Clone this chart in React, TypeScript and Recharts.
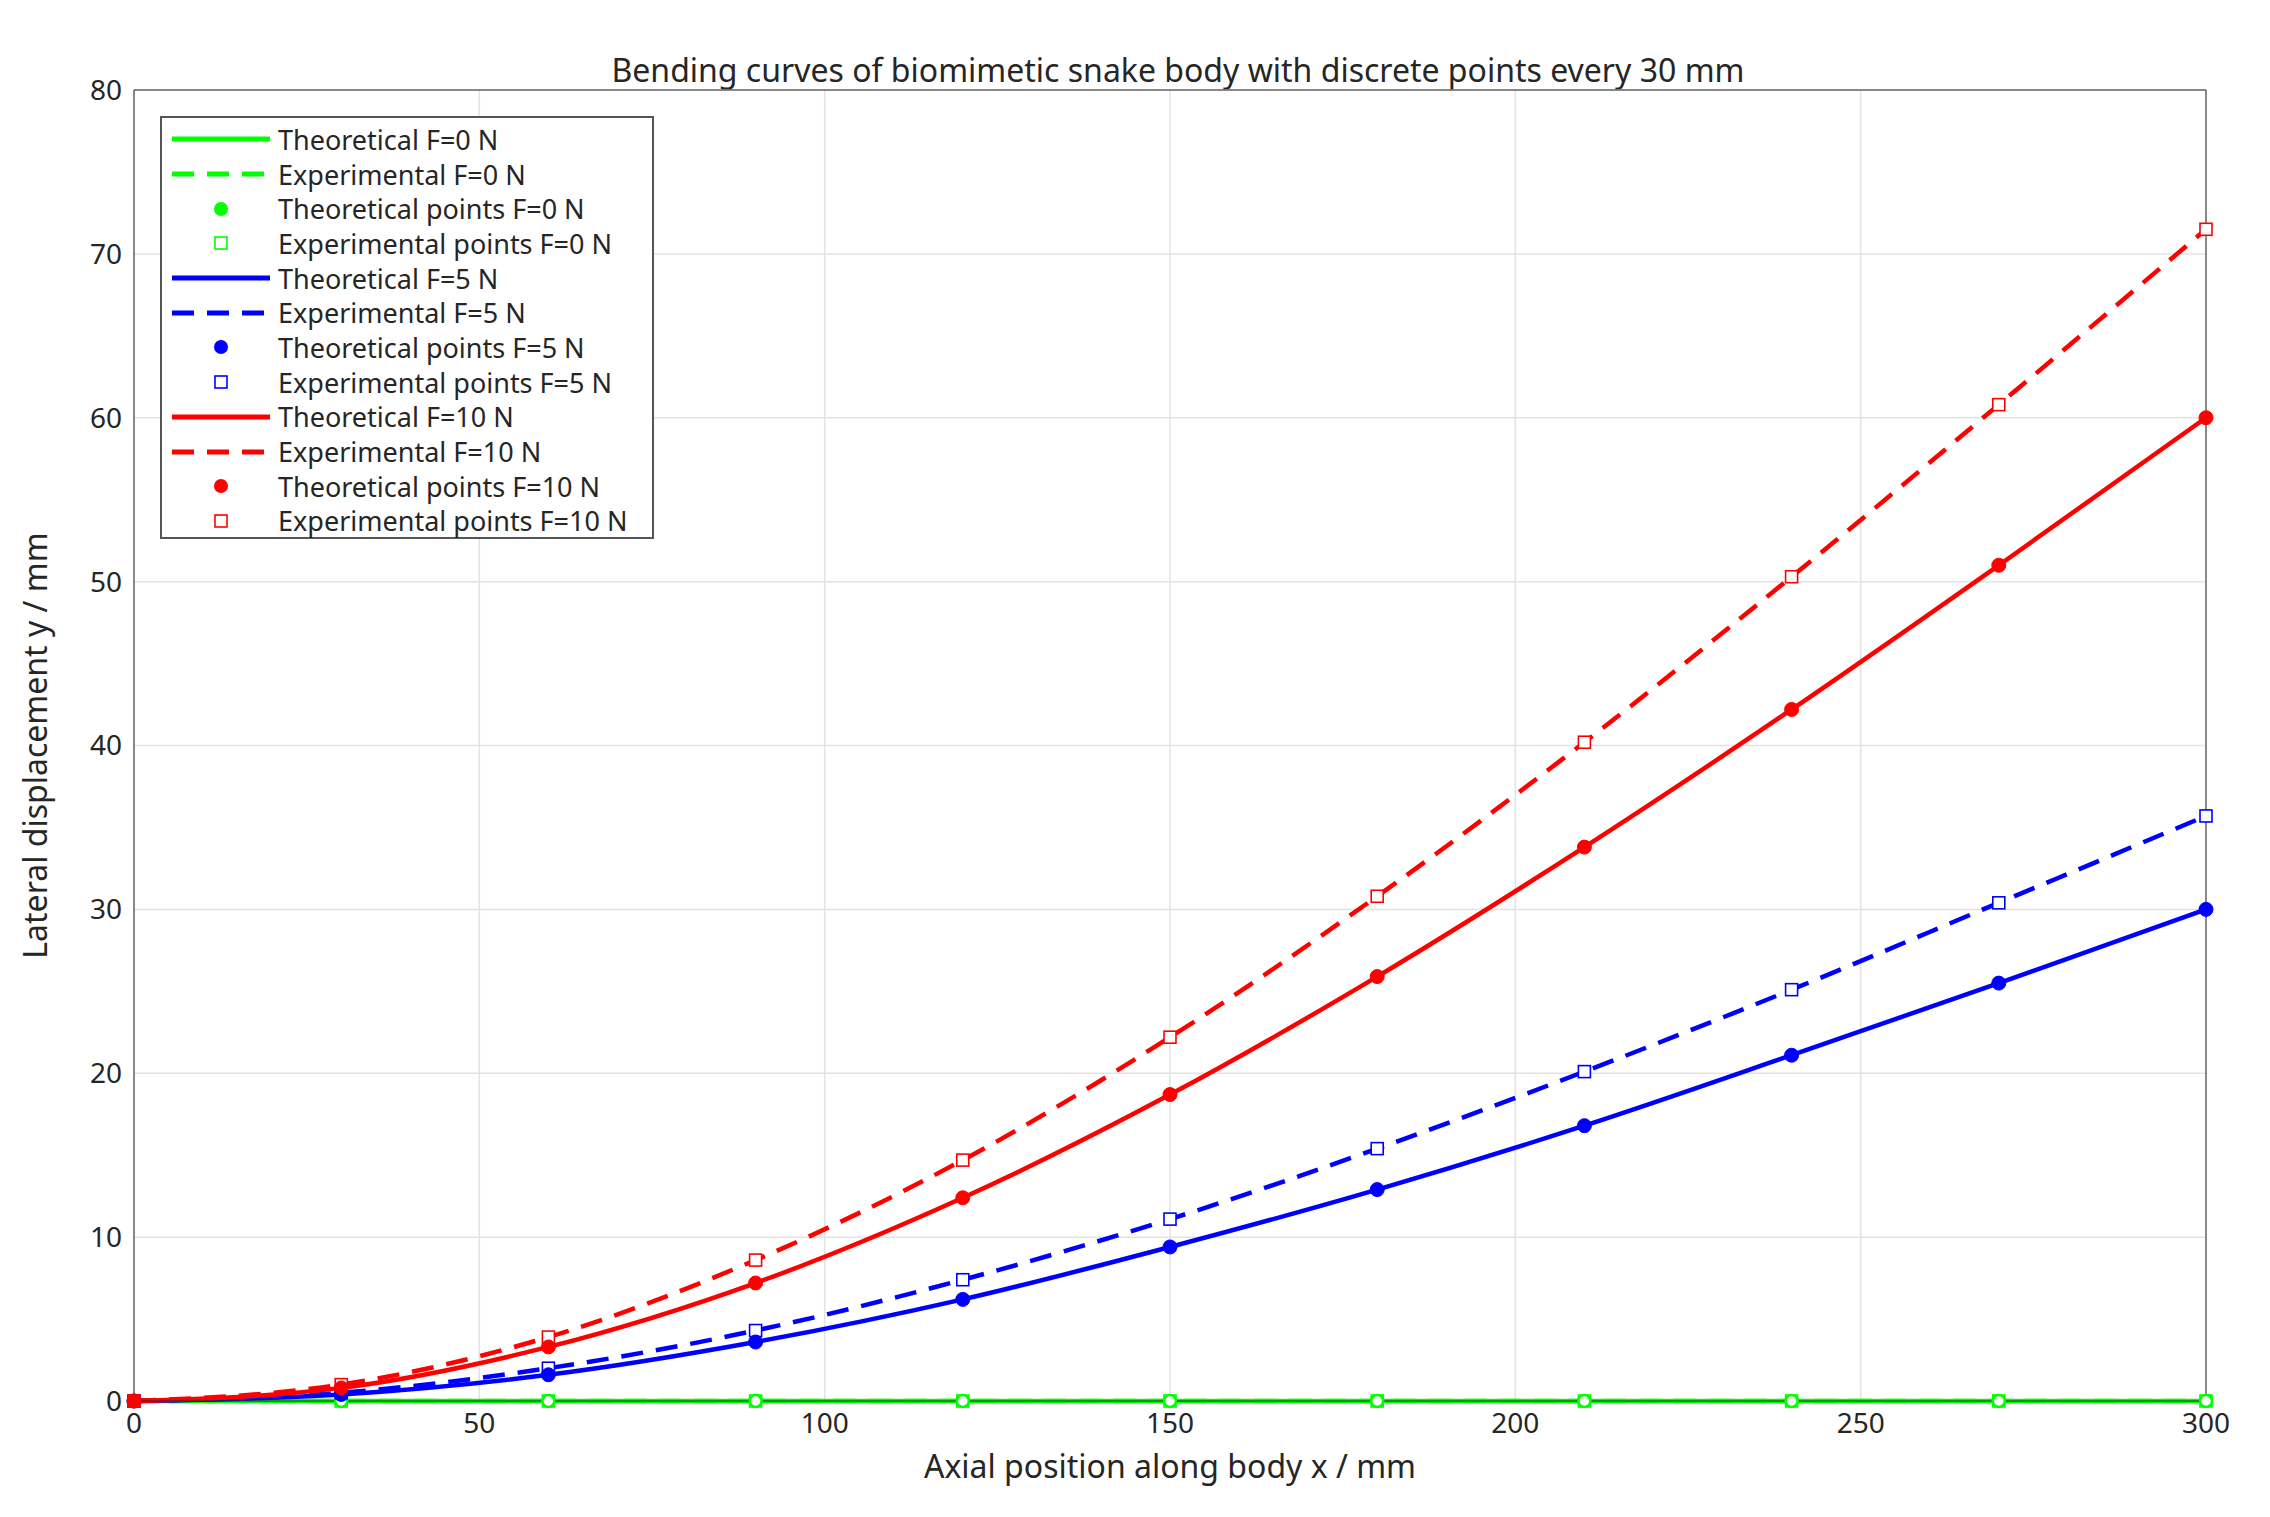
import { CartesianGrid, ComposedChart, Line, ReferenceLine, XAxis, YAxis, Label } from "recharts";

const positions = [0, 30, 60, 90, 120, 150, 180, 210, 240, 270, 300];
const theoF0 = [0, 0, 0, 0, 0, 0, 0, 0, 0, 0, 0];
const expF0 = [0, 0, 0, 0, 0, 0, 0, 0, 0, 0, 0];
const theoF5 = [0, 0.4, 1.6, 3.6, 6.2, 9.4, 12.9, 16.8, 21.1, 25.5, 30.0];
const expF5 = [0, 0.5, 2.0, 4.3, 7.4, 11.1, 15.4, 20.1, 25.1, 30.4, 35.7];
const theoF10 = [0, 0.8, 3.3, 7.2, 12.4, 18.7, 25.9, 33.8, 42.2, 51.0, 60.0];
const expF10 = [0, 1.0, 3.9, 8.6, 14.7, 22.2, 30.8, 40.2, 50.3, 60.8, 71.5];
const xTicks = [0, 50, 100, 150, 200, 250, 300];
const yTicks = [0, 10, 20, 30, 40, 50, 60, 70, 80];

const GREEN = "#00ff00";
const BLUE = "#0000ff";
const RED = "#ff0000";
const FONT = "'Noto Sans', sans-serif";

const data = positions.map((x, i) => ({
  x,
  t0: theoF0[i], e0: expF0[i],
  t5: theoF5[i], e5: expF5[i],
  t10: theoF10[i], e10: expF10[i],
}));

const circleDot = (color: string) => (p: any) =>
  <circle key={p.index} cx={p.cx} cy={p.cy} r={7} fill={color} stroke={color} />;
const squareDot = (color: string) => (p: any) =>
  <rect key={p.index} x={p.cx - 6} y={p.cy - 6} width={12} height={12} fill="white" stroke={color} strokeWidth={1.6} />;

const legendRows = [
  { label: "Theoretical F=0 N", color: GREEN, kind: "solid" },
  { label: "Experimental F=0 N", color: GREEN, kind: "dash" },
  { label: "Theoretical points F=0 N", color: GREEN, kind: "circle" },
  { label: "Experimental points F=0 N", color: GREEN, kind: "square" },
  { label: "Theoretical F=5 N", color: BLUE, kind: "solid" },
  { label: "Experimental F=5 N", color: BLUE, kind: "dash" },
  { label: "Theoretical points F=5 N", color: BLUE, kind: "circle" },
  { label: "Experimental points F=5 N", color: BLUE, kind: "square" },
  { label: "Theoretical F=10 N", color: RED, kind: "solid" },
  { label: "Experimental F=10 N", color: RED, kind: "dash" },
  { label: "Theoretical points F=10 N", color: RED, kind: "circle" },
  { label: "Experimental points F=10 N", color: RED, kind: "square" },
];

function LegendBox() {
  return (
    <div style={{ position: "absolute", left: 152, top: 108, width: 494, height: 423, border: "2px solid #555", background: "white", fontFamily: FONT, fontSize: 27, color: "#262626", boxSizing: "border-box", paddingTop: 4 }}>
      {legendRows.map((r) => (
        <div key={r.label} style={{ display: "flex", alignItems: "center", height: 34.7 }}>
          <svg width={110} height={20} style={{ flex: "none" }}>
            {r.kind === "solid" && <line x1={10} x2={108} y1={10} y2={10} stroke={r.color} strokeWidth={5} />}
            {r.kind === "dash" && <line x1={10} x2={108} y1={10} y2={10} stroke={r.color} strokeWidth={5} strokeDasharray="22 13" />}
            {r.kind === "circle" && <circle cx={59} cy={10} r={7} fill={r.color} />}
            {r.kind === "square" && <rect x={53} y={4} width={12} height={12} fill="white" stroke={r.color} strokeWidth={1.6} />}
          </svg>
          <span style={{ marginLeft: 6 }}>{r.label}</span>
        </div>
      ))}
    </div>
  );
}

export default function App() {
  const tick = { fontSize: 28, fill: "#262626", fontFamily: FONT };
  return (
    <div style={{ position: "relative", width: 2254, height: 1500, background: "white" }}>
      <div style={{ position: "absolute", left: 134, width: 2072, top: 40, textAlign: "center", fontFamily: FONT, fontSize: 32, color: "#262626" }}>
        Bending curves of biomimetic snake body with discrete points every 30 mm
      </div>
      <ComposedChart width={2254} height={1500} data={data} margin={{ top: 82, right: 56, bottom: 57, left: 0 }}>
        <CartesianGrid stroke="#e3e3e3" strokeWidth={1.5} />
        <XAxis dataKey="x" type="number" domain={[0, 300]} ticks={xTicks} tick={tick} height={50} stroke="#262626" tickSize={0} tickMargin={12}>
          <Label value="Axial position along body x / mm" position="bottom" offset={4} style={{ fontSize: 32, fill: "#262626", fontFamily: FONT }} />
        </XAxis>
        <YAxis type="number" domain={[0, 80]} ticks={yTicks} tick={tick} width={126} stroke="#262626" tickSize={0} tickMargin={12}>
          <Label value="Lateral displacement y / mm" angle={-90} position="insideLeft" offset={28} style={{ fontSize: 32, fill: "#262626", fontFamily: FONT, textAnchor: "middle" }} />
        </YAxis>
        <ReferenceLine y={80} stroke="#262626" strokeWidth={1} />
        <ReferenceLine x={300} stroke="#262626" strokeWidth={1} />
        <Line dataKey="e0" type="monotone" stroke={GREEN} strokeWidth={4.5} strokeDasharray="22 13" dot={squareDot(GREEN)} isAnimationActive={false} />
        <Line dataKey="t0" type="monotone" stroke={GREEN} strokeWidth={4.5} dot={(p: any) => <circle key={p.index} cx={p.cx} cy={p.cy} r={6} fill="white" stroke={GREEN} strokeWidth={2.5} />} isAnimationActive={false} />
        <Line dataKey="e5" type="monotone" stroke={BLUE} strokeWidth={4.5} strokeDasharray="22 13" dot={squareDot(BLUE)} isAnimationActive={false} />
        <Line dataKey="t5" type="monotone" stroke={BLUE} strokeWidth={4.5} dot={circleDot(BLUE)} isAnimationActive={false} />
        <Line dataKey="e10" type="monotone" stroke={RED} strokeWidth={4.5} strokeDasharray="22 13" dot={squareDot(RED)} isAnimationActive={false} />
        <Line dataKey="t10" type="monotone" stroke={RED} strokeWidth={4.5} dot={circleDot(RED)} isAnimationActive={false} />
      </ComposedChart>
      <LegendBox />
    </div>
  );
}
